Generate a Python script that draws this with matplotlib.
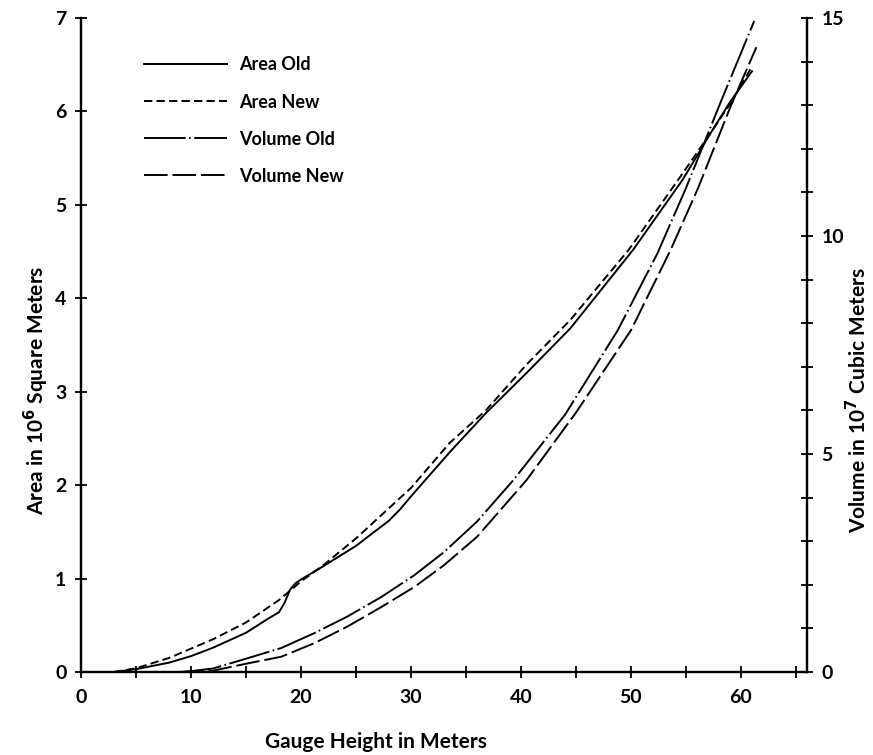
import matplotlib
matplotlib.use("Agg")
import matplotlib.pyplot as plt
from matplotlib.ticker import MultipleLocator, FixedLocator

plt.rcParams["font.family"] = ["Lato", "DejaVu Sans"]
plt.rcParams["font.weight"] = "bold"
plt.rcParams["lines.scale_dashes"] = False

# gauge height (m) vs area (10^6 m^2)
area_old_x = [3, 5, 8, 10, 12, 15, 17, 18, 18.5, 19, 19.5, 20, 22, 25, 28, 29, 30,
              33.5, 36.8, 40.5, 44.5, 50.2, 54.7, 57.3, 59, 61]
area_old_y = [0, 0.03, 0.10, 0.17, 0.26, 0.42, 0.57, 0.64, 0.74, 0.88, 0.95, 0.99,
              1.13, 1.35, 1.62, 1.74, 1.88, 2.35, 2.77, 3.2, 3.68, 4.52, 5.27, 5.78,
              6.1, 6.43]

area_new_x = [3, 5, 8, 10, 12, 15, 18, 20, 22, 25, 30, 33.5, 36.8, 40.5, 44.5, 49.8,
              54.3, 57.3, 59, 61]
area_new_y = [0, 0.04, 0.15, 0.25, 0.35, 0.53, 0.77, 0.97, 1.14, 1.43, 1.97, 2.45,
              2.8, 3.29, 3.77, 4.52, 5.27, 5.78, 6.08, 6.48]

# gauge height (m) vs volume (10^7 m^3)
vol_old_x = [9, 10, 12, 15.2, 18.2, 21.2, 24.2, 27.3, 30.3, 33, 36, 39.3, 44, 48.8,
             52.4, 55, 58.2, 61.2]
vol_old_y = [0, 0.02, 0.08, 0.32, 0.55, 0.89, 1.27, 1.72, 2.22, 2.75, 3.45, 4.4, 5.9,
             7.84, 9.6, 11.1, 13.1, 14.93]

vol_new_x = [9, 12, 15.2, 18.2, 21.2, 24.2, 27.3, 30.3, 33, 36, 40.5, 45, 50, 53.6,
             56.1, 59.1, 61.4]
vol_new_y = [0, 0.03, 0.2, 0.35, 0.66, 1.04, 1.49, 1.95, 2.45, 3.1, 4.4, 5.95, 7.84,
             9.68, 11.1, 13.0, 14.33]

x_ticklabels = [0, 10, 20, 30, 40, 50, 60]
area_ticks = [0, 1, 2, 3, 4, 5, 6, 7]
vol_ticklabels = [0, 5, 10, 15]

fig = plt.figure(figsize=(8.73, 7.55), dpi=100)
ax = fig.add_axes([81 / 873, 1 - 672 / 755, (807 - 81) / 873, (672 - 18) / 755])
ax2 = ax.twinx()

lw = 1.4
l1, = ax.plot(area_old_x, area_old_y, color="black", lw=lw, label="Area Old")
l2, = ax.plot(area_new_x, area_new_y, color="black", lw=lw, label="Area New",
              dashes=(6, 3))
l3, = ax2.plot(vol_old_x, vol_old_y, color="black", lw=lw, label="Volume Old",
               dashes=(30, 2.5, 1.2, 2.5))
l4, = ax2.plot(vol_new_x, vol_new_y, color="black", lw=lw, label="Volume New",
               dashes=(17, 3.5))

ax.set_xlim(0, 66)
ax.set_ylim(0, 7)
ax2.set_ylim(0, 15)

for a in (ax, ax2):
    a.spines["top"].set_visible(False)
    for s in a.spines.values():
        s.set_linewidth(1.6)

ax.xaxis.set_major_locator(FixedLocator(x_ticklabels))
ax.xaxis.set_minor_locator(MultipleLocator(5))
ax.yaxis.set_major_locator(FixedLocator(area_ticks))
ax2.yaxis.set_major_locator(FixedLocator(vol_ticklabels))
ax2.yaxis.set_minor_locator(MultipleLocator(1))

ax.tick_params(axis="both", which="both", direction="inout", length=9, width=1.3,
               labelsize=14, pad=6)
ax.tick_params(axis="x", which="both", length=8, pad=8)
ax2.tick_params(axis="y", which="both", direction="inout", length=9, width=1.3,
                labelsize=14, pad=6)

fig.text(36 / 873, 1 - 390 / 755, "Area in 10$^{6}$ Square Meters", rotation=90,
         ha="center", va="center", fontsize=15, fontweight="bold")
fig.text(858 / 873, 1 - 400 / 755, "Volume in 10$^{7}$ Cubic Meters", rotation=90,
         ha="center", va="center", fontsize=15, fontweight="bold")
fig.text(376 / 873, 1 - 742 / 755, "Gauge Height in Meters", ha="center",
         va="center", fontsize=15, fontweight="bold")

ax.legend(handles=[l1, l2, l3, l4], loc="upper left", frameon=False,
          bbox_to_anchor=(0.065, 0.966), fontsize=13, handlelength=4.6,
          handletextpad=0.66, labelspacing=1.11)

fig.savefig("out.png", dpi=100)
